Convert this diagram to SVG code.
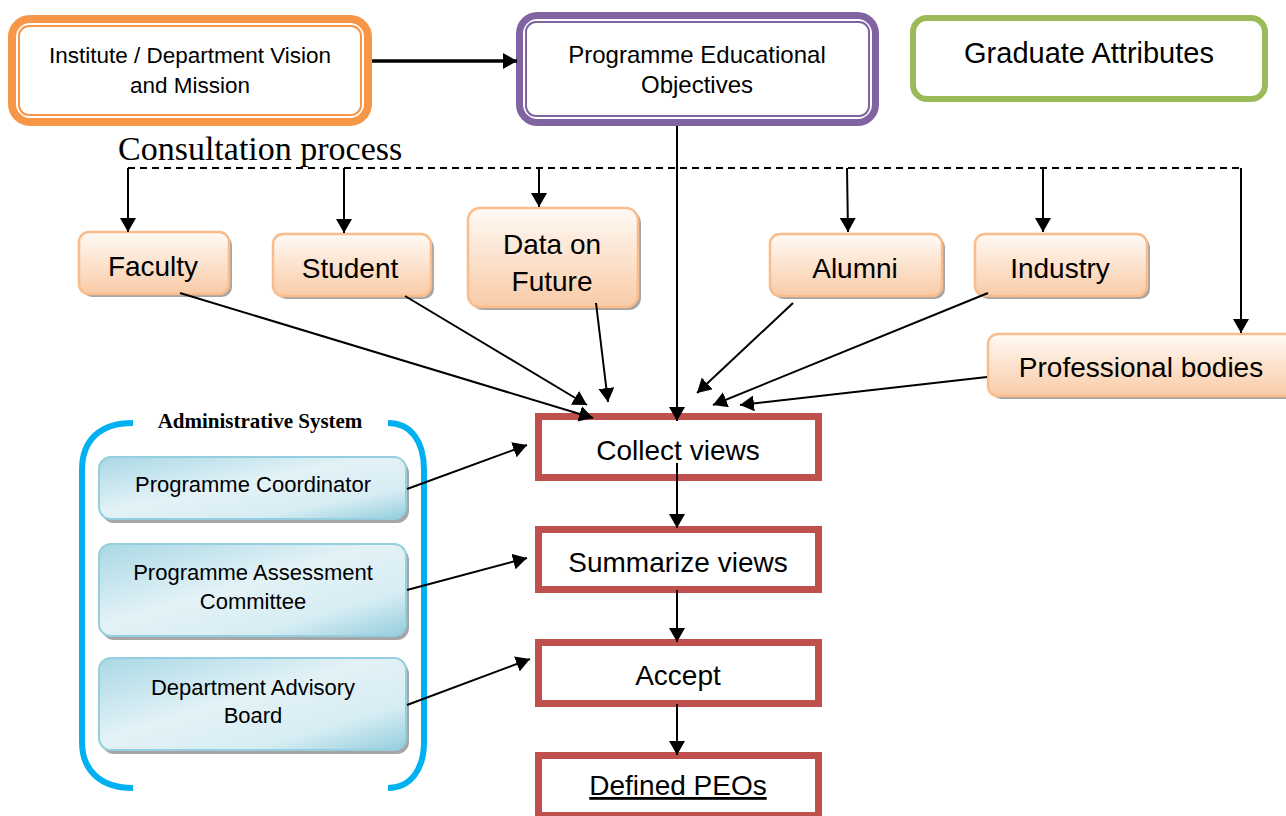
<svg xmlns="http://www.w3.org/2000/svg" width="1286" height="816" viewBox="0 0 1286 816">
<style>
  .t{font-family:"Liberation Sans",Arial,sans-serif;fill:#000;text-anchor:middle}
  .s{font-size:28px}
  .m{font-size:22px}
  .ob{fill:url(#og);stroke:#f9bd8d;stroke-width:2.5}
  .bb{fill:url(#bg);stroke:#95cfdf;stroke-width:2}
  .sh{fill:#a6a6a6}
  .fb{fill:#fff;stroke:#c0504d;stroke-width:7}
  .c{fill:none;stroke:#000;stroke-width:2}
  .br{fill:none;stroke:#00b0f0;stroke-width:6}
</style>
<defs>
  <linearGradient id="og" x1="0" y1="0" x2="0" y2="1">
    <stop offset="0" stop-color="#fffaf5"/>
    <stop offset="1" stop-color="#f9cba7"/>
  </linearGradient>
  <linearGradient id="bg" x1="0" y1="0" x2="1" y2="1">
    <stop offset="0" stop-color="#a9d8e5"/>
    <stop offset="0.45" stop-color="#e3f2f7"/>
    <stop offset="0.75" stop-color="#d6edf3"/>
    <stop offset="1" stop-color="#93cddd"/>
  </linearGradient>
  <marker id="ah" viewBox="0 0 14 16" refX="14" refY="8" markerWidth="14" markerHeight="16" markerUnits="userSpaceOnUse" orient="auto">
    <path d="M0,0 L14,8 L0,16 Z" fill="#000"/>
  </marker>
</defs>
<rect width="1286" height="816" fill="#fff"/>

<g id="vision">
  <rect x="12" y="19" width="356" height="103" rx="18" fill="#fff" stroke="#f79646" stroke-width="8"/>
  <rect x="19" y="26" width="342" height="89" rx="10" fill="#fff" stroke="#f79646" stroke-width="2"/>
  <text class="t" font-size="22.5" x="190" y="63">Institute / Department Vision</text>
  <text class="t" font-size="22.5" x="190" y="93">and Mission</text>
</g>
<g id="peo">
  <rect x="519.5" y="15.5" width="356" height="107" rx="18" fill="#fff" stroke="#8064a2" stroke-width="7"/>
  <rect x="526" y="22" width="343" height="94" rx="10" fill="#fff" stroke="#8064a2" stroke-width="2"/>
  <text class="t" font-size="24" x="697" y="63">Programme Educational</text>
  <text class="t" font-size="24" x="697" y="93">Objectives</text>
</g>
<g id="graduate">
  <rect x="913" y="18" width="352" height="81" rx="14" fill="#fff" stroke="#9bbb59" stroke-width="6"/>
  <text class="t" font-size="29" x="1089" y="63">Graduate Attributes</text>
</g>
<g id="consultation">
  <text x="118" y="160" font-family="'Liberation Serif','Times New Roman',serif" font-size="34">Consultation process</text>
</g>

<g id="faculty">
  <rect class="sh" x="82" y="235" width="150" height="62" rx="10"/>
  <rect class="ob" x="79" y="232" width="150" height="62" rx="10"/>
  <text class="t s" x="153" y="276">Faculty</text>
</g>
<g id="student">
  <rect class="sh" x="276" y="237" width="158" height="62" rx="10"/>
  <rect class="ob" x="273" y="234" width="158" height="62" rx="10"/>
  <text class="t s" x="350" y="278">Student</text>
</g>
<g id="data">
  <rect class="sh" x="471" y="211" width="170" height="99" rx="12"/>
  <rect class="ob" x="468" y="208" width="170" height="99" rx="12"/>
  <text class="t s" x="552" y="254">Data on</text>
  <text class="t s" x="552" y="291">Future</text>
</g>
<g id="alumni">
  <rect class="sh" x="773" y="237" width="172" height="62" rx="10"/>
  <rect class="ob" x="770" y="234" width="172" height="62" rx="10"/>
  <text class="t s" x="855" y="278">Alumni</text>
</g>
<g id="industry">
  <rect class="sh" x="978" y="237" width="172" height="62" rx="10"/>
  <rect class="ob" x="975" y="234" width="172" height="62" rx="10"/>
  <text class="t s" x="1060" y="278">Industry</text>
</g>
<g id="professional">
  <rect class="sh" x="991" y="337" width="310" height="62" rx="10"/>
  <rect class="ob" x="988" y="334" width="310" height="62" rx="10"/>
  <text class="t s" x="1141" y="377">Professional bodies</text>
</g>

<g id="admin">
  <path class="br" d="M133,423 C100,423 82,440 82,470 V742 C82,770 100,788 133,788"/>
  <path class="br" d="M388,423 C410,423 424,440 424,470 V742 C424,770 410,788 388,788"/>
  <text x="260" y="428" text-anchor="middle" font-family="'Liberation Serif','Times New Roman',serif" font-size="21" font-weight="bold">Administrative System</text>
</g>
<g id="coordinator">
  <rect class="sh" x="102" y="461" width="307" height="62" rx="12"/>
  <rect class="bb" x="99" y="457" width="307" height="62" rx="12"/>
  <text class="t m" x="253" y="492">Programme Coordinator</text>
</g>
<g id="assessment">
  <rect class="sh" x="102" y="548" width="307" height="92" rx="12"/>
  <rect class="bb" x="99" y="544" width="307" height="92" rx="12"/>
  <text class="t m" x="253" y="580">Programme Assessment</text>
  <text class="t m" x="253" y="609">Committee</text>
</g>
<g id="advisory">
  <rect class="sh" x="102" y="662" width="307" height="92" rx="12"/>
  <rect class="bb" x="99" y="658" width="307" height="92" rx="12"/>
  <text class="t m" x="253" y="695">Department Advisory</text>
  <text class="t m" x="253" y="723">Board</text>
</g>

<g id="collect">
  <rect class="fb" x="538.5" y="416.5" width="280" height="61"/>
  <text class="t s" x="678" y="460">Collect views</text>
</g>
<g id="summarize">
  <rect class="fb" x="538.5" y="529.5" width="280" height="60"/>
  <text class="t s" x="678" y="572">Summarize views</text>
</g>
<g id="accept">
  <rect class="fb" x="538.5" y="642.5" width="280" height="61"/>
  <text class="t s" x="678" y="685">Accept</text>
</g>
<g id="defined">
  <rect class="fb" x="538.5" y="755.5" width="280" height="60"/>
  <text class="t s" x="678" y="795" text-decoration="underline">Defined PEOs</text>
</g>

<g id="connectors">
  <path d="M372,61 H517" fill="none" stroke="#000" stroke-width="3.5" marker-end="url(#ah)"/>
  <path d="M128,168 H1241" fill="none" stroke="#000" stroke-width="2" stroke-dasharray="7,5"/>
  <path class="c" d="M128,168 V232" marker-end="url(#ah)"/>
  <path class="c" d="M344,168 V233" marker-end="url(#ah)"/>
  <path class="c" d="M539,168 V207" marker-end="url(#ah)"/>
  <path class="c" d="M847,168 L848,232" marker-end="url(#ah)"/>
  <path class="c" d="M1043,168 V232" marker-end="url(#ah)"/>
  <path class="c" d="M1241,168 V333" marker-end="url(#ah)"/>
  <path class="c" d="M180,293 L593,418" marker-end="url(#ah)"/>
  <path class="c" d="M405,296 L587,405" marker-end="url(#ah)"/>
  <path class="c" d="M596,303 L608,402" marker-end="url(#ah)"/>
  <path class="c" d="M677,126 V421" marker-end="url(#ah)"/>
  <path class="c" d="M793,303 L697,393" marker-end="url(#ah)"/>
  <path class="c" d="M988,293 L713,405" marker-end="url(#ah)"/>
  <path class="c" d="M987,377 L740,405" marker-end="url(#ah)"/>
  <path class="c" d="M677,463 V528" marker-end="url(#ah)"/>
  <path class="c" d="M677,590 V642" marker-end="url(#ah)"/>
  <path class="c" d="M677,704 V755" marker-end="url(#ah)"/>
  <path class="c" d="M407,489 L527,445" marker-end="url(#ah)"/>
  <path class="c" d="M407,590 L527,558" marker-end="url(#ah)"/>
  <path class="c" d="M407,705 L530,659" marker-end="url(#ah)"/>
</g>
</svg>
